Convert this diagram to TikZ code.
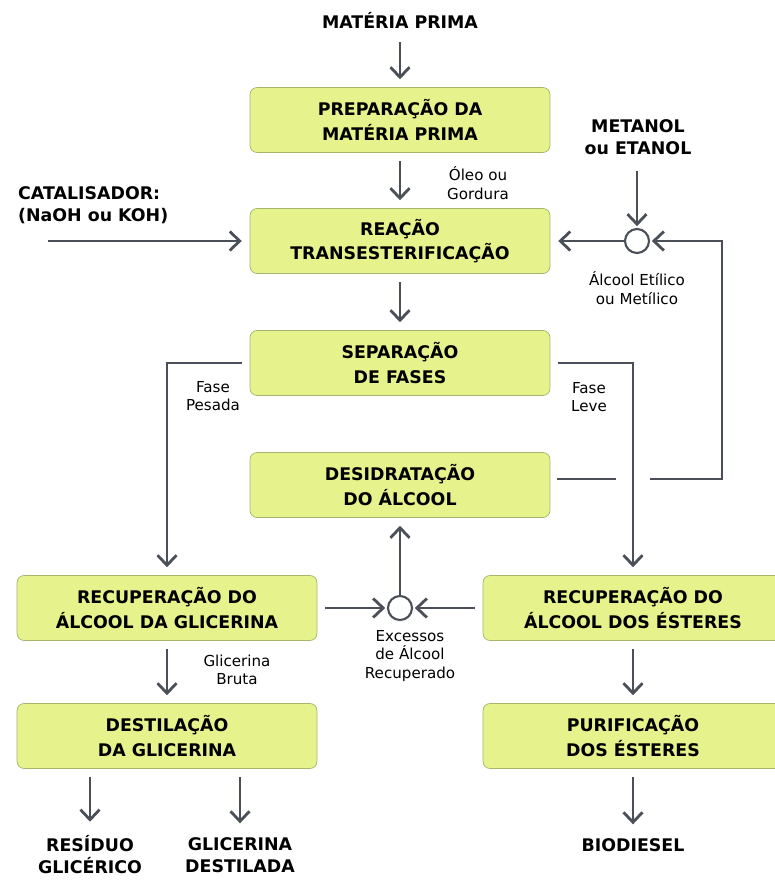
\documentclass[tikz,border=0pt]{standalone}
\usepackage{fontspec}
\setmainfont{DejaVu Sans}
\usetikzlibrary{arrows.meta}
\definecolor{caixa}{RGB}{230,242,140}
\definecolor{borda}{RGB}{165,180,110}
\definecolor{linha}{RGB}{75,80,88}
\tikzset{
  etapa/.style={draw=borda, fill=caixa, rounded corners=4pt, minimum width=6cm,
    minimum height=1.3cm, align=center, font=\bfseries\fontsize{9.9}{14}\selectfont},
  titulo/.style={align=center, font=\bfseries\fontsize{9.9}{12.5}\selectfont},
  rotulo/.style={align=center, font=\fontsize{8.6}{10.6}\selectfont},
  juncao/.style={draw=linha, circle, line width=1.2pt, fill=white, minimum size=0.48cm, inner sep=0pt},
  traco/.style={draw=linha, line width=1.6pt},
  seta/.style={traco, -{Straight Barb[length=2mm, width=3.8mm]}, shorten >=4.5pt, shorten <=4.5pt}
}
\begin{document}
\begin{tikzpicture}[x=0.02cm, y=-0.02cm]
  \useasboundingbox (0,0) rectangle (775,880);
  % Etapas
  \node [etapa] (prep)      at (400,120) {PREPARAÇÃO DA\\MATÉRIA PRIMA};
  \node [etapa] (reacao)    at (400,241) {REAÇÃO\\TRANSESTERIFICAÇÃO};
  \node [etapa] (separacao) at (400,363) {SEPARAÇÃO\\DE FASES};
  \node [etapa] (desidrat)  at (400,485) {DESIDRATAÇÃO\\DO ÁLCOOL};
  \node [etapa] (recglic)   at (167,608) {RECUPERAÇÃO DO\\ÁLCOOL DA GLICERINA};
  \node [etapa] (recest)    at (633,608) {RECUPERAÇÃO DO\\ÁLCOOL DOS ÉSTERES};
  \node [etapa] (destglic)  at (167,736) {DESTILAÇÃO\\DA GLICERINA};
  \node [etapa] (purif)     at (633,736) {PURIFICAÇÃO\\DOS ÉSTERES};
  % Entradas und Produkte
  \node [titulo] (materia)   at (400,20)  {MATÉRIA PRIMA};
  \node [titulo] (metanol)   at (638,137) {METANOL\\ou ETANOL};
  \node [titulo, align=left, anchor=west] (catal) at (12,205) {CATALISADOR:\\(NaOH ou KOH)};
  \node [titulo] (residuo)   at (90,855)  {RESÍDUO\\GLICÉRICO};
  \node [titulo] (glicdest)  at (240,855) {GLICERINA\\DESTILADA};
  \node [titulo] (biodiesel) at (633,845) {BIODIESEL};
  % Knoten
  \node [juncao] (mix1) at (637,241) {};
  \node [juncao] (mix2) at (400,608) {};
  \coordinate (catin)  at (48,241);
  \coordinate (salto1) at (616,479);
  \coordinate (salto2) at (650,479);
  \coordinate (canto)  at (722,479);
  % Beschriftungen
  \node [rotulo] (oleo)      at (478,183) {Óleo ou\\Gordura};
  \node [rotulo] (etilico)   at (637,288) {Álcool Etílico\\ou Metílico};
  \node [rotulo] (pesada)    at (213,396) {Fase\\Pesada};
  \node [rotulo] (leve)      at (589,397) {Fase\\Leve};
  \node [rotulo] (bruta)     at (237,670) {Glicerina\\Bruta};
  \node [rotulo] (excessos)  at (410,656) {Excessos\\de Álcool\\Recuperado};
  % Verbindungen
  \draw [seta] (materia) -- (prep);
  \draw [seta] (prep) -- (reacao);
  \draw [seta] (reacao) -- (separacao);
  \draw [seta, shorten <=0pt] (catin) -- (reacao);
  \draw [seta, shorten <=6pt, shorten >=1pt] (metanol.south -| mix1) -- (mix1);
  \draw [seta, shorten <=0pt] (mix1) -- (reacao);
  \draw [seta, shorten <=0pt, shorten >=1pt] (salto2) -- (canto) |- (mix1);
  \draw [traco, shorten <=4pt] (desidrat.east |- salto1) -- (salto1);
  \draw [seta] (separacao) -| (recglic);
  \draw [seta] (separacao) -| (recest);
  \draw [seta, shorten >=1pt] (recglic) -- (mix2);
  \draw [seta, shorten >=1pt] (recest) -- (mix2);
  \draw [seta, shorten <=0pt] (mix2) -- (desidrat);
  \draw [seta] (recglic) -- (destglic);
  \draw [seta] (recest) -- (purif);
  \draw [seta] (destglic.south -| residuo) -- (residuo);
  \draw [seta] (destglic.south -| glicdest) -- (glicdest);
  \draw [seta] (purif) -- (biodiesel);
\end{tikzpicture}
\end{document}
